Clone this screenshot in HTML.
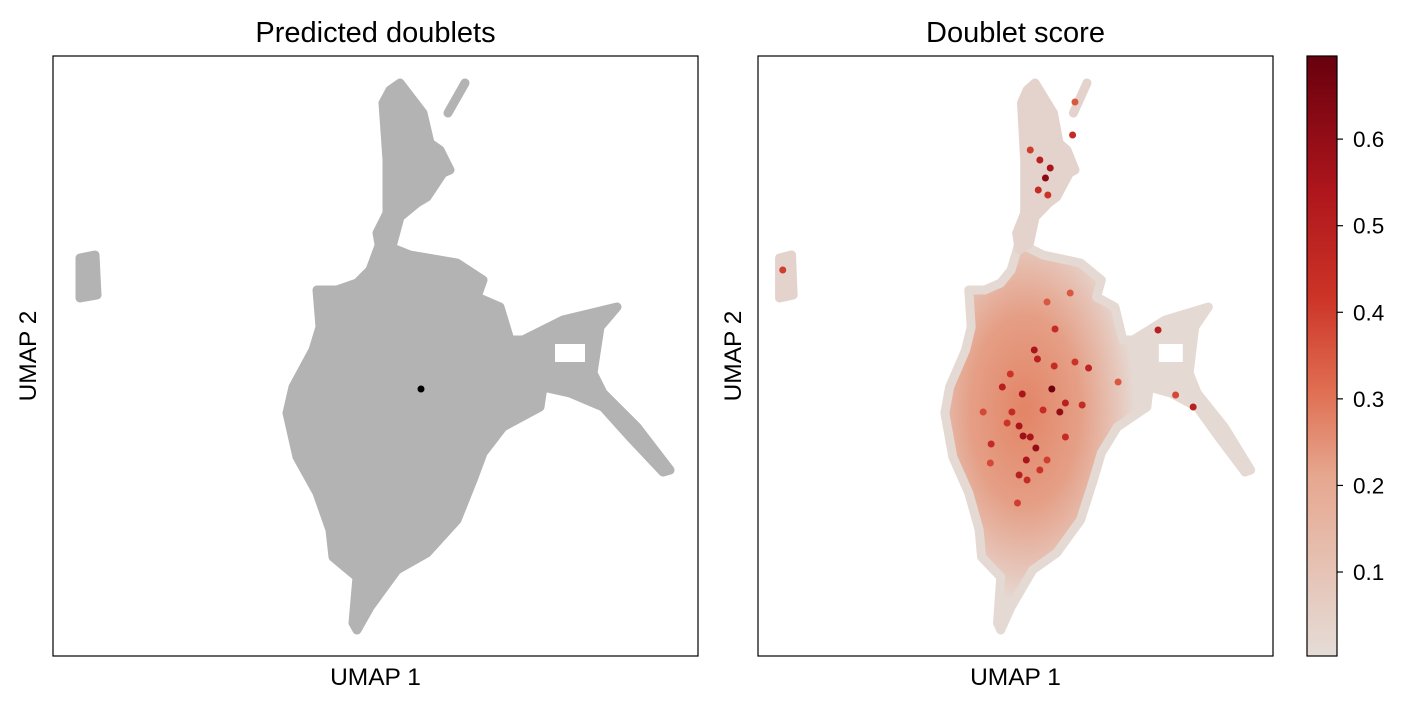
<!DOCTYPE html>
<html><head><meta charset="utf-8"><style>
body{margin:0;background:#fff;font-family:"Liberation Sans",Arial,sans-serif}
</style></head><body>
<svg id="chart" width="1427" height="706" xmlns="http://www.w3.org/2000/svg" font-family="Liberation Sans, Arial, sans-serif">
<defs>
<linearGradient id="cbar" x1="0" y1="1" x2="0" y2="0">
<stop offset="0" stop-color="#e5dcd7"/><stop offset="0.3" stop-color="#e6a78f"/>
<stop offset="0.45" stop-color="#df6b4f"/><stop offset="0.6" stop-color="#cc3327"/>
<stop offset="0.78" stop-color="#ad151c"/><stop offset="1" stop-color="#67000d"/>
</linearGradient>
<radialGradient id="blobgrad" gradientUnits="userSpaceOnUse" cx="1025" cy="410" r="110" gradientTransform="translate(1025 410) scale(1 1.75) translate(-1025 -410)">
<stop offset="0" stop-color="#e38466"/><stop offset="0.5" stop-color="#e59f86"/><stop offset="0.85" stop-color="#e6c7bb"/><stop offset="1" stop-color="#e5d9d3"/>
</radialGradient>
</defs>
<g id="left"></g><g id="right"></g>
</svg>
<script>
// UMAP outlines in embedding units (x: 0..645, y: 0..600)
const mainBlob=[[327,413],[357,401],[404,393],[430,376],[424,359],[447,349],[457,316],[470,316],[510,336],[564,349],[547,329],[540,283],[550,263],[584,229],[617,186],[610,184],[577,219],[550,249],[517,263],[490,269],[487,249],[450,229],[430,203],[420,176],[404,136],[374,103],[344,86],[317,49],[304,26],[300,33],[304,79],[280,99],[277,126],[264,163],[244,199],[234,243],[240,269],[260,306],[267,329],[264,366],[284,366],[304,373],[317,386]];
const armHole=[[502,312],[532,312],[532,294],[502,294]];
const topCluster=[[347,573],[370,543],[377,513],[387,506],[397,486],[390,483],[374,459],[364,453],[347,439],[340,413],[327,406],[324,423],[334,443],[334,496],[330,553],[337,566]];
const topBranch=[[412,573],[395,543]];
const leftCluster=[[27,398],[42,401],[44,361],[27,358]];
const doubletX=[368];
const doubletY=[267];
// high-score cells (x, y, score)
const hotX=[368,346,350,306,331,378,385,406,414,372,327,332,341,348,336,327,292,385,501,545,357,318,371,316,397,337,353,291,325,362,312,282,391,362,523,451,360,366,353,351,363,394,397,341,31];
const hotY=[267,306,297,269,262,244,253,251,288,327,230,220,219,208,196,181,212,219,326,249,246,244,290,282,294,176,186,193,153,196,233,244,363,354,261,274,478,488,496,466,461,521,554,506,386];
const hotS=[0.68,0.55,0.5,0.5,0.55,0.6,0.5,0.45,0.48,0.45,0.55,0.58,0.55,0.6,0.55,0.5,0.45,0.45,0.5,0.5,0.45,0.45,0.45,0.42,0.42,0.45,0.42,0.38,0.4,0.4,0.42,0.38,0.35,0.35,0.38,0.35,0.62,0.55,0.5,0.45,0.42,0.45,0.35,0.4,0.4];
const cbTicks=[0.1,0.2,0.3,0.4,0.5,0.6];
const cbMin=0.003, cbMax=0.696;

const NS="http://www.w3.org/2000/svg";
function mk(p,t,a){const e=document.createElementNS(NS,t);for(const k in a)e.setAttribute(k,a[k]);p.appendChild(e);return e;}
function panel(x0,w){return {x:v=>x0+v*w/645,y:v=>656-v};}
const L=panel(53,645), R=panel(758,515);
function pathOf(pts,P,close){return "M"+pts.map(p=>P.x(p[0])+","+P.y(p[1])).join("L")+(close?"Z":"");}
function color(s){const t=(s-cbMin)/(cbMax-cbMin);
 const st=[[0,[229,220,215]],[0.3,[230,167,143]],[0.45,[223,107,79]],[0.6,[204,51,39]],[0.78,[173,21,28]],[1,[103,0,13]]];
 for(let i=1;i<st.length;i++){if(t<=st[i][0]){const a=st[i-1],b=st[i],f=(t-a[0])/(b[0]-a[0]);return "rgb("+a[1].map((c,j)=>Math.round(c+(b[1][j]-c)*f)).join(",")+")";}}return "rgb(103,0,13)";}

function drawPanel(g,P,x0,w,title,isScore){
 const t=mk(g,"text",{x:x0+w/2,y:42,"text-anchor":"middle","font-size":"29"});t.textContent=title;
 
 
 const base=isScore?"#e4d3cc":"#b3b3b3";
 [mainBlob,topCluster,leftCluster].forEach((c,i)=>{
  const p=mk(g,"path",{d:pathOf(c,P,true),fill:isScore&&i===0?"url(#blobgrad)":base,stroke:isScore&&i===0?"#e5d9d3":base,"stroke-width":9,"stroke-linejoin":"round"});
  
  
 });
 const br=mk(g,"path",{d:pathOf(topBranch,P,false),fill:"none",stroke:base,"stroke-width":9,"stroke-linecap":"round"});
 
 
 const h=mk(g,"path",{d:pathOf(armHole,P,true),fill:"#fff"});
 
 
 if(isScore){
  hotX.forEach((x,i)=>{const c=mk(g,"circle",{cx:P.x(x),cy:P.y(hotY[i]),r:3.5,fill:color(hotS[i])});
   
   });
 } else {
  doubletX.forEach((x,i)=>{const c=mk(g,"circle",{cx:P.x(x),cy:P.y(doubletY[i]),r:3.5,fill:"#000"});
   
   });
 }
 const f=mk(g,"rect",{x:x0,y:56,width:w,height:600,fill:"none",stroke:"#000","stroke-width":1.2});
 
 
 const xl=mk(g,"text",{x:x0+w/2,y:685,"text-anchor":"middle","font-size":"24.5"});xl.textContent="UMAP 1";
 
 
 const yx=x0-17;
 const yl=mk(g,"text",{x:yx,y:356,"text-anchor":"middle","font-size":"24.5",transform:"rotate(-90 "+yx+" 356)"});yl.textContent="UMAP 2";
 
 
}
drawPanel(document.getElementById("left"),L,53,645,"Predicted doublets",false);
drawPanel(document.getElementById("right"),R,758,515,"Doublet score",true);
const svg=document.getElementById("chart");
const cb=mk(svg,"rect",{x:1307,y:56,width:30,height:600,fill:"url(#cbar)",stroke:"#000","stroke-width":1.2});


const cy=v=>656-(v-cbMin)/(cbMax-cbMin)*600;
cbTicks.forEach(v=>{
 const l=mk(svg,"line",{x1:1337,x2:1343,y1:cy(v),y2:cy(v),stroke:"#000","stroke-width":1.2});
 
 
 const t=mk(svg,"text",{x:1353,y:cy(v)+8,"font-size":"22.5"});t.textContent=v.toFixed(1);
 
 
});
</script>
</body></html>
